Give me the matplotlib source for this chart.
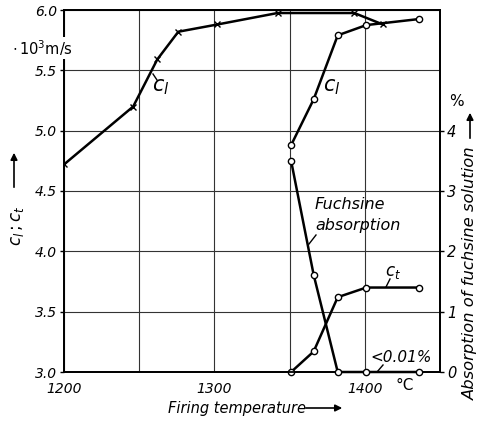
import numpy as np
import matplotlib.pyplot as plt
from matplotlib.patches import FancyArrowPatch

# longitudinal velocity, series 1 (crosses)
temp_a = [1200, 1246, 1262, 1276, 1302, 1342, 1393, 1412]
cl_a = [4.72, 5.20, 5.59, 5.82, 5.88, 5.975, 5.975, 5.88]

# longitudinal velocity, series 2 (circles)
temp_b = [1351, 1366, 1382, 1401, 1436]
cl_b = [4.88, 5.26, 5.79, 5.875, 5.925]

# transverse velocity
temp_t = [1351, 1366, 1382, 1401, 1436]
ct = [3.0, 3.17, 3.62, 3.70, 3.70]

# fuchsine absorption in %
temp_f = [1351, 1366, 1382, 1401, 1436]
fuchs = [3.50, 1.61, 0.0, 0.0, 0.0]

xticks = [1200, 1250, 1300, 1350, 1400, 1450]
xticklabels = ['1200', '', '1300', '', '1400', '']
yticks = [3.0, 3.5, 4.0, 4.5, 5.0, 5.5, 6.0]
yticklabels = ['3.0', '3.5', '4.0', '4.5', '5.0', '5.5', '6.0']
pticks = [0, 1, 2, 3, 4]
pticklabels = ['0', '1', '2', '3', '4']

W, H = 479, 422
fig = plt.figure(figsize=(W / 100, H / 100), dpi=100)
ax = fig.add_axes([64 / W, 1 - 372 / H, 376 / W, 362 / H])
ax2 = ax.twinx()

def px(x, y):
    return (x / W, 1 - y / H)

lw = 1.8
ax.plot(temp_a, cl_a, color='k', lw=lw, marker='x', ms=5, mew=1.0, zorder=3)
ax.plot(temp_b, cl_b, color='k', lw=lw, marker='o', ms=4.5, mfc='white', mew=1.0, zorder=4)
ax.plot(temp_t, ct, color='k', lw=lw, marker='o', ms=4.5, mfc='white', mew=1.0, zorder=4, clip_on=False)
ax2.plot(temp_f, fuchs, color='k', lw=lw, marker='o', ms=4.5, mfc='white', mew=1.0, zorder=4, clip_on=False)

ax.set_xlim(1200, 1450)
ax.set_ylim(3.0, 6.0)
ax2.set_ylim(0, 6)

ax.set_xticks(xticks, xticklabels, fontstyle='italic', fontsize=10)
ax.set_yticks(yticks, yticklabels, fontstyle='italic', fontsize=10)
ax2.set_yticks(pticks, pticklabels, fontstyle='italic', fontsize=10.5)

ax.grid(True, color='0.2', lw=0.8)
ax.tick_params(axis='x', length=0, pad=7)
ax.tick_params(axis='y', length=3, width=1, pad=2)
ax2.tick_params(axis='y', length=3, width=1, pad=2)
for a in (ax, ax2):
    for s in a.spines.values():
        s.set_linewidth(1.3)

# units and axis titles
fig.text(*px(12, 48), r'$\cdot\,10^3$m/s', fontsize=10.5, ha='left', va='center', zorder=10,
         bbox=dict(facecolor='white', edgecolor='none', pad=0.5))
fig.text(*px(17, 226), r'$c_l\,;c_t$', fontsize=12, rotation=90, ha='center', va='center')
fig.add_artist(FancyArrowPatch(px(14, 190), px(14, 150), arrowstyle='-|>', mutation_scale=10,
                               color='k', lw=1.2, transform=fig.transFigure))
fig.text(*px(449, 102), '%', fontsize=11, ha='left', va='center')
fig.text(*px(470, 146), 'Absorption of fuchsine solution', fontsize=11.8, style='italic',
         rotation=90, ha='center', va='top')
fig.add_artist(FancyArrowPatch(px(470, 141), px(470, 110), arrowstyle='-|>', mutation_scale=10,
                               color='k', lw=1.2, transform=fig.transFigure))
fig.text(*px(237, 408), 'Firing temperature', fontsize=10.5, style='italic', ha='center', va='center')
fig.add_artist(FancyArrowPatch(px(303, 408), px(345, 408), arrowstyle='-|>', mutation_scale=10,
                               color='k', lw=1.2, transform=fig.transFigure))
fig.text(*px(405, 385), '°C', fontsize=11, ha='center', va='center')

# curve labels with leader lines
fig.text(*px(161, 87), r'$c_l$', fontsize=15, ha='center', va='center')
fig.add_artist(plt.Line2D([153 / W, 157 / W], [1 - 74 / H, 1 - 80 / H], color='k', lw=1))
fig.text(*px(332, 87), r'$c_l$', fontsize=15, ha='center', va='center')
fig.text(*px(393, 272), r'$c_t$', fontsize=12, ha='center', va='center')
fig.add_artist(plt.Line2D([390 / W, 386 / W], [1 - 279 / H, 1 - 287 / H], color='k', lw=1))
fig.text(*px(315, 215), 'Fuchsine\nabsorption', fontsize=11.5, style='italic',
         ha='left', va='center', linespacing=1.45)
fig.add_artist(plt.Line2D([316 / W, 309 / W], [1 - 235 / H, 1 - 244 / H], color='k', lw=1))
fig.text(*px(401, 358), '<0.01%', fontsize=11, style='italic', ha='center', va='center')
fig.add_artist(plt.Line2D([377 / W, 383 / W], [1 - 372 / H, 1 - 365 / H], color='k', lw=1))

fig.savefig('out.png', dpi=100)
